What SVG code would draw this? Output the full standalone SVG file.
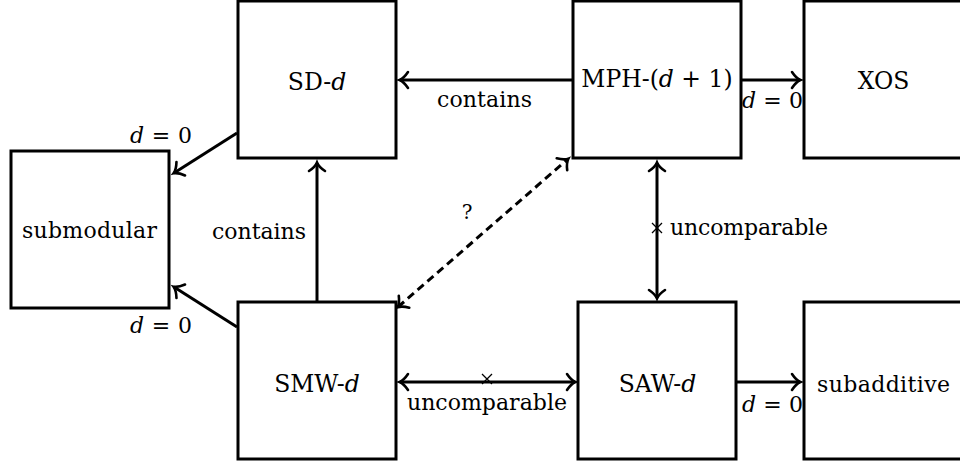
<svg xmlns="http://www.w3.org/2000/svg" width="960" height="465" viewBox="0 0 960 465">
<style>
.box{fill:#fff;stroke:#000;stroke-width:3}
.t{font-family:"DejaVu Serif","Liberation Serif",serif;font-size:22px;fill:#000}
.n{font-size:23.5px}
.m{text-anchor:middle}
.i{font-style:italic}
.c{fill:none;stroke:#000;stroke-width:3}
.dash{stroke-dasharray:8 5}
.x{fill:none;stroke:#000;stroke-width:1.3}
</style>
<defs>
<marker id="ah" markerUnits="userSpaceOnUse" viewBox="-12 -10 14 20" markerWidth="14" markerHeight="20" refX="0" refY="0" orient="auto-start-reverse" overflow="visible">
<path d="M-8,-8 C-5,-3.5 -1.5,-0.8 0.5,0 C-1.5,0.8 -5,3.5 -8,8" fill="none" stroke="#000" stroke-width="2.6" stroke-linecap="round"/>
</marker>
</defs>
<g id="connectors">
<line class="c" x1="572" y1="80" x2="400" y2="80" marker-end="url(#ah)"/>
<line class="c" x1="742" y1="80" x2="800" y2="80" marker-end="url(#ah)"/>
<line class="c" x1="237" y1="133" x2="174" y2="173" marker-end="url(#ah)"/>
<line class="c" x1="237" y1="327" x2="174" y2="287" marker-end="url(#ah)"/>
<line class="c" x1="317" y1="302" x2="317" y2="163" marker-end="url(#ah)"/>
<line class="c dash" x1="398" y1="307" x2="568" y2="159" marker-start="url(#ah)" marker-end="url(#ah)"/>
<line class="c" x1="657" y1="163" x2="657" y2="298" marker-start="url(#ah)" marker-end="url(#ah)"/>
<line class="c" x1="400" y1="382" x2="575" y2="382" marker-start="url(#ah)" marker-end="url(#ah)"/>
<line class="c" x1="737" y1="382" x2="800" y2="382" marker-end="url(#ah)"/>
<path class="x" d="M482,374 L492,384 M492,374 L482,384"/>
<path class="x" d="M652,223 L662,233 M662,223 L652,233"/>
<text class="t m" x="484.5" y="107" textLength="95">contains</text>
<text class="t" x="742" y="108" textLength="61"><tspan class="i">d</tspan> = 0</text>
<text class="t" x="130" y="143" textLength="62"><tspan class="i">d</tspan> = 0</text>
<text class="t" x="130" y="333" textLength="62"><tspan class="i">d</tspan> = 0</text>
<text class="t" x="212" y="239" textLength="94">contains</text>
<text class="t m" x="467" y="219" style="font-size:20px">?</text>
<text class="t" x="670" y="235" textLength="158">uncomparable</text>
<text class="t" x="407" y="410" textLength="160">uncomparable</text>
<text class="t" x="742" y="412" textLength="61"><tspan class="i">d</tspan> = 0</text>
</g>
<g id="sd"><rect class="box" x="238" y="1" width="158" height="157"/><text class="t n m" x="317" y="90">SD-<tspan class="i">d</tspan></text></g>
<g id="mph"><rect class="box" x="573" y="1" width="168" height="157"/><text class="t n m" x="657" y="87">MPH-(<tspan class="i">d</tspan> + 1)</text></g>
<g id="xos"><rect class="box" x="804" y="1" width="158" height="157"/><text class="t n m" x="883.5" y="89">XOS</text></g>
<g id="submodular"><rect class="box" x="11" y="151" width="158" height="157"/><text class="t" x="22" y="238" textLength="135">submodular</text></g>
<g id="smw"><rect class="box" x="238" y="302" width="158" height="157"/><text class="t n m" x="317" y="392">SMW-<tspan class="i">d</tspan></text></g>
<g id="saw"><rect class="box" x="578" y="302" width="158" height="157"/><text class="t n m" x="657.5" y="392">SAW-<tspan class="i">d</tspan></text></g>
<g id="subadditive"><rect class="box" x="804" y="302" width="158" height="157"/><text class="t" x="817" y="392" textLength="133">subadditive</text></g>
</svg>
